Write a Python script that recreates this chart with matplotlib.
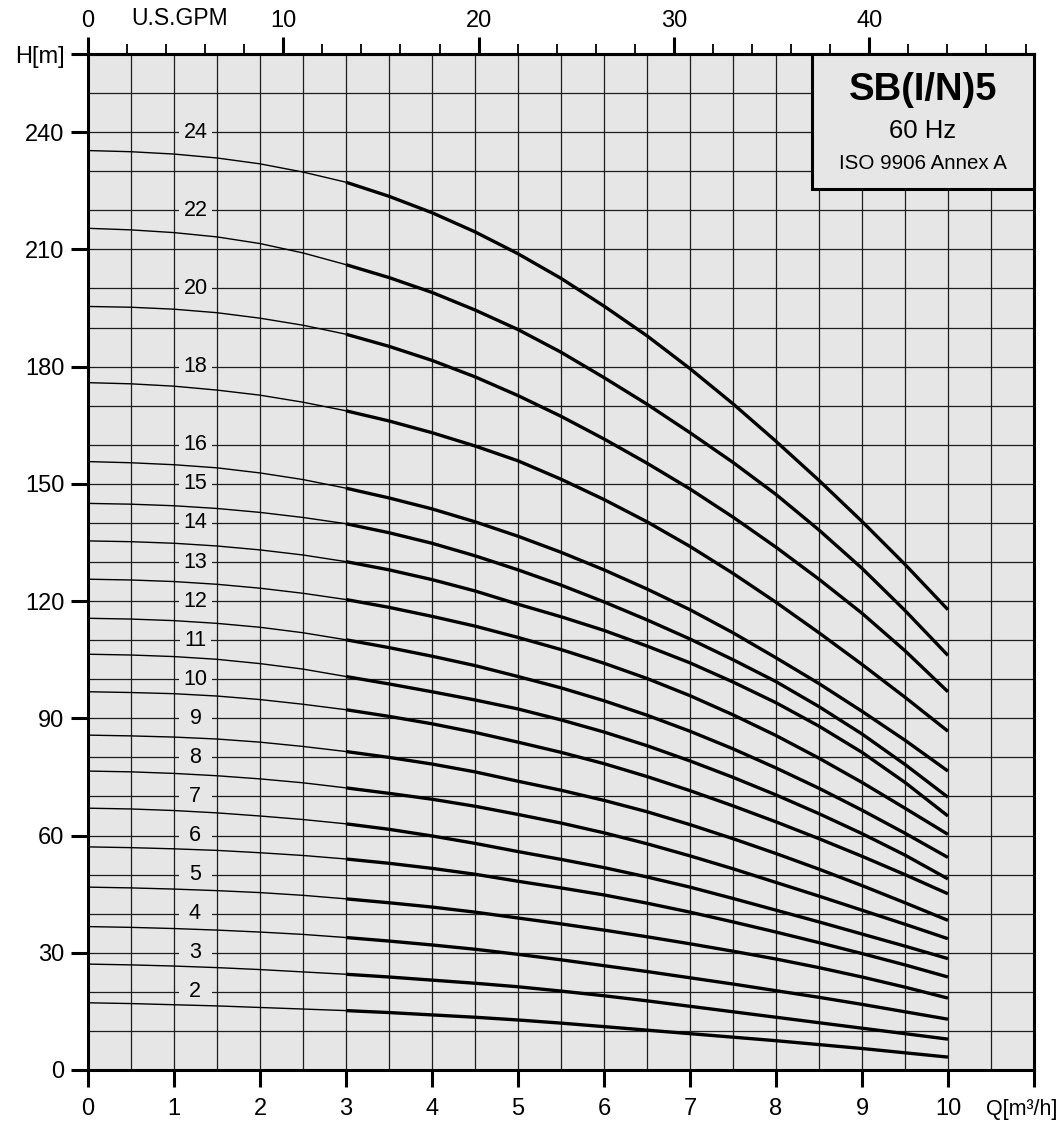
import matplotlib
matplotlib.use("Agg")
import matplotlib.pyplot as plt
from matplotlib.patches import Rectangle
from matplotlib.ticker import FixedLocator, MultipleLocator

plt.rcParams['font.family'] = ['Liberation Sans', 'DejaVu Sans']

# --- data: head H [m] vs flow Q [m3/h] per stage count ---
flow = [0, 0.5, 1, 1.5, 2, 2.5, 3, 3.5, 4, 4.5, 5, 5.5, 6, 6.5, 7, 7.5, 8, 8.5, 9, 9.5, 10]

stages = [24, 22, 20, 18, 16, 15, 14, 13, 12, 11, 10, 9, 8, 7, 6, 5, 4, 3, 2]

head_24 = [235.3, 235.0, 234.4, 233.4, 231.9, 229.8, 227.2, 223.6, 219.4, 214.5, 208.9,
           202.6, 195.5, 187.9, 179.5, 170.5, 160.9, 150.9, 140.4, 129.4, 117.8]
head_22 = [215.4, 215.0, 214.3, 213.2, 211.5, 209.1, 206.1, 202.8, 199.0, 194.5, 189.5,
           183.7, 177.2, 170.4, 163.1, 155.5, 147.3, 138.2, 128.4, 117.6, 106.1]
head_20 = [195.4, 195.2, 194.7, 193.8, 192.4, 190.6, 188.3, 185.2, 181.6, 177.4, 172.6,
           167.3, 161.5, 155.3, 148.7, 141.5, 133.8, 125.6, 116.9, 107.3, 96.8]
head_18 = [175.9, 175.6, 175.0, 174.0, 172.7, 170.9, 168.7, 166.1, 163.1, 159.7, 155.9,
           151.2, 146.0, 140.3, 134.0, 127.1, 119.7, 111.9, 103.8, 95.4, 86.7]
head_16 = [155.7, 155.4, 154.9, 154.1, 152.8, 151.1, 148.9, 146.4, 143.6, 140.3, 136.6,
           132.5, 128.0, 123.1, 117.8, 111.9, 105.5, 98.9, 91.8, 84.4, 76.5]
head_15 = [145.0, 144.8, 144.4, 143.7, 142.7, 141.4, 139.8, 137.5, 134.8, 131.6, 128.0,
           124.1, 119.8, 115.2, 110.3, 105.0, 99.4, 93.0, 86.0, 78.2, 69.8]
head_14 = [135.4, 135.2, 134.8, 134.1, 133.1, 131.8, 130.1, 128.0, 125.5, 122.6, 119.2,
           116.0, 112.5, 108.5, 104.2, 99.3, 94.0, 88.0, 81.3, 73.6, 65.0]
head_13 = [125.6, 125.4, 125.0, 124.3, 123.3, 122.0, 120.4, 118.4, 116.1, 113.6, 110.7,
           107.6, 104.1, 100.2, 95.8, 90.9, 85.6, 79.8, 73.6, 67.0, 60.3]
head_12 = [115.6, 115.4, 115.0, 114.3, 113.3, 111.9, 110.1, 108.1, 105.9, 103.5, 100.7,
           97.8, 94.5, 90.8, 86.7, 82.2, 77.3, 72.1, 66.5, 60.6, 54.4]
head_11 = [106.4, 106.2, 105.8, 105.1, 104.0, 102.6, 100.7, 98.8, 96.8, 94.7, 92.4,
           89.6, 86.5, 83.0, 79.1, 74.9, 70.4, 65.6, 60.5, 55.0, 48.9]
head_10 = [96.8, 96.6, 96.3, 95.7, 94.8, 93.6, 92.2, 90.5, 88.6, 86.4, 83.9,
           81.3, 78.4, 75.1, 71.5, 67.6, 63.5, 59.2, 54.7, 50.0, 45.1]
head_9 = [85.7, 85.5, 85.2, 84.7, 83.9, 82.8, 81.5, 80.0, 78.3, 76.3, 73.9,
          71.6, 69.0, 66.1, 62.8, 59.2, 55.4, 51.4, 47.2, 42.8, 38.3]
head_8 = [76.5, 76.3, 75.9, 75.3, 74.5, 73.5, 72.2, 70.8, 69.3, 67.5, 65.4,
          63.2, 60.7, 57.9, 54.8, 51.5, 48.0, 44.5, 40.9, 37.3, 33.6]
head_7 = [67.0, 66.8, 66.4, 65.8, 65.0, 64.1, 63.0, 61.6, 59.9, 58.0, 55.9,
          53.9, 51.8, 49.4, 46.8, 43.9, 40.9, 37.9, 34.8, 31.7, 28.5]
head_6 = [57.1, 56.9, 56.6, 56.2, 55.6, 54.9, 54.0, 52.9, 51.6, 50.1, 48.3,
          46.6, 44.8, 42.7, 40.4, 37.9, 35.3, 32.6, 29.8, 26.9, 23.8]
head_5 = [46.8, 46.6, 46.3, 45.9, 45.4, 44.7, 43.8, 42.8, 41.7, 40.4, 38.9,
          37.4, 35.8, 34.1, 32.3, 30.4, 28.4, 26.2, 23.8, 21.2, 18.4]
head_4 = [36.7, 36.5, 36.2, 35.8, 35.3, 34.7, 33.9, 33.0, 32.0, 30.9, 29.6,
          28.2, 26.7, 25.2, 23.6, 22.0, 20.3, 18.6, 16.8, 14.9, 13.0]
head_3 = [27.1, 26.9, 26.6, 26.2, 25.7, 25.1, 24.5, 23.8, 23.0, 22.2, 21.3,
          20.2, 19.0, 17.7, 16.3, 14.9, 13.5, 12.1, 10.7, 9.3, 7.9]
head_2 = [17.2, 17.0, 16.7, 16.4, 16.0, 15.6, 15.2, 14.7, 14.1, 13.5, 12.8,
          12.0, 11.1, 10.2, 9.3, 8.4, 7.5, 6.5, 5.5, 4.4, 3.3]

heads = [head_24, head_22, head_20, head_18, head_16, head_15, head_14, head_13, head_12,
         head_11, head_10, head_9, head_8, head_7, head_6, head_5, head_4, head_3, head_2]

y_ticks = [0, 30, 60, 90, 120, 150, 180, 210, 240, 260]
y_labels = ['0', '30', '60', '90', '120', '150', '180', '210', '240', 'H[m]']
x_ticks = [0, 1, 2, 3, 4, 5, 6, 7, 8, 9, 10, 11]
x_labels = ['0', '1', '2', '3', '4', '5', '6', '7', '8', '9', '10', '']
gpm_ticks = [0, 10, 20, 30, 40]

GPM_PER_M3H = 4.4029
BG = '#e6e6e6'
FS = 17

fig = plt.figure(figsize=(10.61, 11.21), dpi=100)
ax = fig.add_axes([0.0829, 0.0455, 0.8916, 0.9063])
ax.set_facecolor(BG)
ax.set_xlim(0, 11)
ax.set_ylim(0, 260)

# grid: 0.5 m3/h by 10 m
ax.xaxis.set_major_locator(FixedLocator(x_ticks))
ax.xaxis.set_minor_locator(MultipleLocator(0.5))
ax.yaxis.set_major_locator(FixedLocator(y_ticks))
ax.yaxis.set_minor_locator(MultipleLocator(10))
ax.set_xticklabels(x_labels)
ax.set_yticklabels(y_labels)
ax.grid(which='both', color='#1e1e1e', linewidth=0.9)
ax.set_axisbelow(True)
ax.tick_params(which='minor', length=0)
ax.tick_params(which='major', length=12, width=2.2, labelsize=FS, pad=5, colors='black')
ax.tick_params(axis='x', pad=8)
for sp in ax.spines.values():
    sp.set_linewidth(2.2)

# curves: thin up to Q=3, bold afterwards
for n, h in zip(stages, heads):
    ax.plot(flow[:7], h[:7], color='black', linewidth=1.0, zorder=3, solid_capstyle='butt')
    ax.plot(flow[6:], h[6:], color='black', linewidth=2.4, zorder=3, solid_capstyle='butt')
    txt = str(n) if n >= 10 else f' {n} '
    ax.text(1.25, 10 * n, txt, ha='center', va='center', fontsize=15.5, zorder=2.5,
            bbox=dict(boxstyle='square,pad=0.2', fc=BG, ec='none'))

# top axis in U.S. GPM
top = ax.secondary_xaxis('top', functions=(lambda q: q * GPM_PER_M3H, lambda g: g / GPM_PER_M3H))
top.set_xticks(gpm_ticks)
top.xaxis.set_minor_locator(MultipleLocator(2))
top.tick_params(which='major', length=12, width=2.2, labelsize=FS, pad=4)
top.tick_params(which='minor', length=7, width=1.3)
top.spines['top'].set_linewidth(2.2)

ax.text(1.07, 1.0354, 'U.S.GPM', transform=ax.get_xaxis_transform(),
        ha='center', va='center', fontsize=16.5)
ax.text(10.86, -0.0384, 'Q[m³/h]', transform=ax.get_xaxis_transform(),
        ha='center', va='center', fontsize=15.5)

# title box
ax.add_patch(Rectangle((8.414, 225.5), 11 - 8.414, 34.5, facecolor=BG,
                       edgecolor='black', linewidth=2.2, zorder=5, clip_on=False))
ax.text(9.71, 250.9, 'SB(I/N)5', ha='center', va='center', fontsize=27.5,
        fontweight='bold', zorder=6)
ax.text(9.71, 240.3, '60 Hz', ha='center', va='center', fontsize=18.5, zorder=6)
ax.text(9.71, 231.9, 'ISO 9906 Annex A', ha='center', va='center', fontsize=14.8, zorder=6)

fig.savefig('out.png', dpi=100)
